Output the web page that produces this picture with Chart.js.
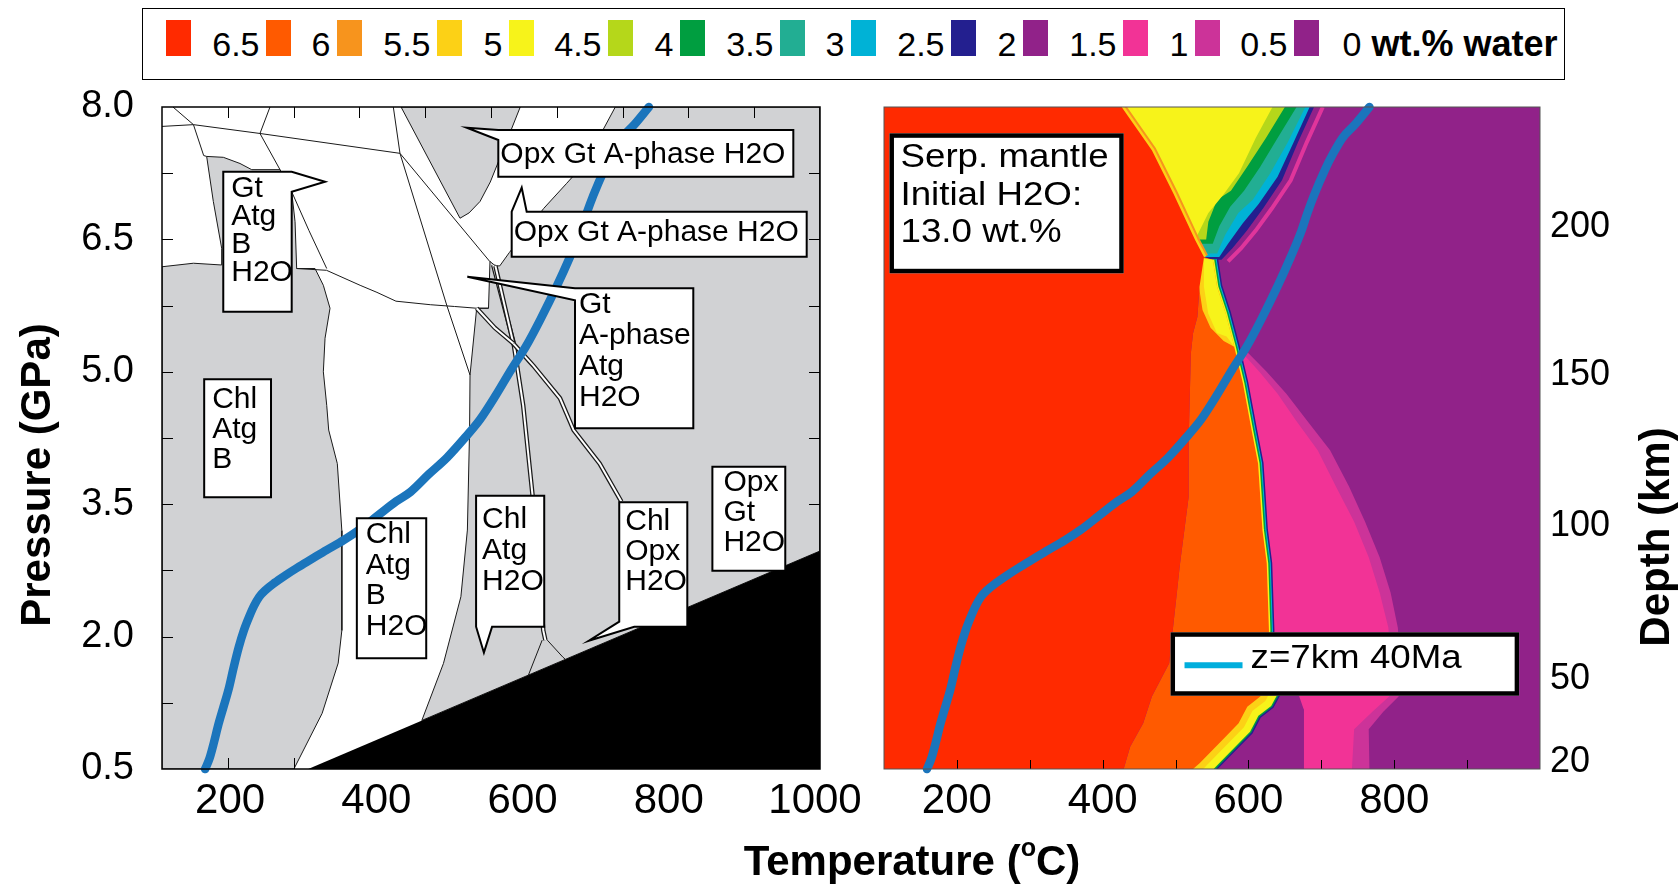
<!DOCTYPE html>
<html>
<head>
<meta charset="utf-8">
<title>Serpentinised mantle: phase relations and water content</title>
<script src="https://cdn.jsdelivr.net/npm/chart.js@4.4.1/dist/chart.umd.min.js"></script>
<style>
  html, body { margin: 0; padding: 0; background: #fff; }
  body { width: 1680px; height: 884px; position: relative; overflow: hidden;
         font-family: "Liberation Sans", Arial, Helvetica, sans-serif; color: #000; }
  #legend { position: absolute; left: 142px; top: 8px; width: 1421px; height: 70px; border: 1.5px solid #000; }
  #legend .sw { position: absolute; top: 11px; width: 25px; height: 36px; }
  #legend .lab { position: absolute; top: 11px; display: flex; align-items: baseline; font-size: 34px; white-space: nowrap; }
  #legend .lab::before { content: ''; display: block; width: 0; height: 36px; }
  #legend .lab b { font-size: 36px; }
  .title { position: absolute; height: 50px; line-height: 50px; font-weight: bold; font-size: 42px;
           text-align: center; white-space: nowrap; }
  canvas { position: absolute; }
</style>
</head>
<body>
<div id="legend"></div>
<canvas id="phaseChart" width="860" height="794" style="left:0;top:90px"></canvas>
<canvas id="waterChart" width="820" height="794" style="left:860px;top:90px"></canvas>
<div class="title" style="left:-164px;top:450px;width:400px;transform:rotate(-90deg)">Pressure (GPa)</div>
<div class="title" style="left:1505px;top:512px;width:300px;transform:rotate(-90deg)">Depth (km)</div>
<div class="title" style="left:612px;top:836px;width:600px">Temperature (<sup style="font-size:60%;vertical-align:0.75em;line-height:0">o</sup>C)</div>

<script>
// ---------- colour key (wt.% water) ----------
const waterColors = ['#ff2a00', '#ff5a00', '#f7941d', '#fcd116', '#f7f31a', '#b5d71a', '#009e40',
                     '#22ae93', '#00b2d6', '#231f8f', '#912289', '#f23396', '#cc3399', '#912289'];
const waterLabels = ['6.5', '6', '5.5', '5', '4.5', '4', '3.5', '3', '2.5', '2', '1.5', '1', '0.5', '0'];

// ---------- axes ----------
const tempTicksLeft = [200, 400, 600, 800, 1000];
const tempTicksRight = [200, 400, 600, 800];
const pressureTicks = [0.5, 2.0, 3.5, 5.0, 6.5, 8.0];
const depthLabels = [20, 50, 100, 150, 200];
const depthAtPressure = [0.58, 1.52, 3.25, 4.96, 6.64];
const leftMinorT = [190, 280, 370, 460, 550, 640, 730, 820, 910];
const leftMinorP = [1.25, 2.0, 2.75, 3.5, 4.25, 5.0, 5.75, 6.5, 7.25];
const rightMinorT = [200, 300, 400, 500, 600, 700, 800, 900];

// ---------- P-T path, z=7km 40Ma ----------
const pathTemp = [159, 165, 171, 177, 184, 191, 198, 205, 212, 219, 226, 233, 242, 254, 268, 285, 305, 325, 348, 370,
                  395, 420, 440, 465, 490, 515, 535, 557, 578, 598, 618, 640, 658, 672, 681, 690, 705, 716, 729, 746, 766];
const pathPressure = [0.5, 0.62, 0.8, 1.0, 1.2, 1.4, 1.65, 1.88, 2.07, 2.22, 2.35, 2.45, 2.53, 2.61, 2.69, 2.78, 2.88, 2.98, 3.09, 3.21,
                      3.37, 3.53, 3.64, 3.84, 4.03, 4.26, 4.46, 4.74, 5.03, 5.29, 5.6, 5.97, 6.3, 6.58, 6.8, 7.0, 7.29, 7.47, 7.65, 7.8, 8.0];

// ---------- phase diagram fields [T degC, P GPa] ----------
const grayLeft = [[100, 0.5], [100, 6.19], [143, 6.23], [181.6, 6.21], [181.6, 6.4], [170.2, 6.93], [161.1, 7.44], [183.9, 7.43],
                  [206.7, 7.36], [222.7, 7.29], [261.4, 7.29], [277.4, 7.04], [282, 6.7], [284.2, 6.17], [309.3, 6.17], [320.7, 5.98],
                  [329.8, 5.72], [323, 5.38], [320.7, 5.0], [325.3, 4.62], [328, 4.34], [339.8, 3.96], [346, 3.2], [346, 2.07],
                  [341, 1.7], [319, 1.13], [280.4, 0.5], [100, 0.5]];
const grayTop = [[427, 8.0], [590, 8.0], [566, 7.5], [549, 7.15], [535, 6.93], [520, 6.8], [507.6, 6.74], [427, 8.0]];
const grayRight = [[455.4, 1.05], [485, 1.697], [508.8, 2.452], [517.7, 3.207], [520.7, 4.34], [521.3, 4.963], [530.4, 5.72],
                   [546.6, 5.72], [548.6, 6.25], [556, 6.2], [562, 6.2], [575, 6.35], [594, 6.55], [622, 6.85], [653.5, 7.135],
                   [672, 7.305], [694.5, 7.607], [720, 8.0], [1000, 8.0], [1000, 2.97], [455.4, 1.05]];
const blackWedge = [[300, 0.5], [1000, 0.5], [1000, 2.97]];

const lineTopLeft = [[115, 8.0], [143, 7.8], [157, 7.45], [161.1, 7.44]];
const lineUpper = [[100, 7.78], [143, 7.8], [234, 7.7], [425.5, 7.475]];
const lineUpperSpur = [[234, 7.7], [247.7, 8.0]];
const lineDiagonal = [[234, 7.7], [261.4, 7.29], [277.4, 7.04], [301, 6.6], [325.3, 6.17]];
const lineMiddle = [[284, 6.17], [325, 6.15], [371, 5.98], [394, 5.9], [420, 5.8], [467, 5.76], [500, 5.74], [530.4, 5.72], [546.6, 5.72]];
const lineLong = [[416.4, 8.0], [425.5, 7.475], [489.4, 5.756], [521.3, 4.963]];
const lineCross = [[425.5, 7.475], [548.6, 6.247]];
const lineFootA = [[620, 1.96], [601, 1.56]];
const lineFootB = [[627, 1.96], [648, 1.77], [652, 1.74]];
const bandA = [[553, 6.21], [580.6, 5.34], [594, 4.62], [606.6, 3.62], [621.5, 2.07], [624.4, 1.96]];
const bandB = [[556, 6.2], [580.6, 5.32], [607.9, 5.07], [644.4, 4.7], [663, 4.34], [698.6, 3.96], [728.3, 3.53]];
const bandC = [[530.4, 5.72], [555, 5.5], [580.6, 5.32]];

// ---------- water content fields [T degC, P GPa] ----------
const fullPanel = [[100, 0.5], [1000, 0.5], [1000, 8], [100, 8]];
const magentaZone = [[580, 5.3], [600, 5.21], [625, 5.0], [652, 4.75], [680, 4.45], [712, 4.11], [738, 3.7], [760, 3.3], [780, 2.9],
                     [795, 2.5], [805, 2.1], [808, 1.7], [806, 1.32], [785, 1.15], [765, 0.95], [766, 0.5], [676, 0.5], [676, 1.17],
                     [628, 1.9], [628.1, 2.074], [625.1, 2.83], [619.2, 3.207], [613.2, 3.962], [604.3, 4.34], [592.4, 4.869]];
const pinkZone = [[583, 5.25], [592, 5.21], [615, 5.0], [640, 4.75], [665, 4.45], [695, 4.11], [720, 3.7], [745, 3.3], [765, 2.9],
                  [780, 2.5], [792, 2.1], [795, 1.7], [793, 1.32], [770, 1.15], [745, 0.95], [742, 0.5], [676, 0.5], [676, 1.17],
                  [628, 1.9], [628.1, 2.074], [625.1, 2.83], [619.2, 3.207], [613.2, 3.962], [604.3, 4.34], [592.4, 4.869]];
const purplePocket = [[616, 1.9], [616.2, 1.32], [598.4, 1.206], [586.5, 1.017], [568.6, 0.866], [550.8, 0.716], [533, 0.564],
                      [524, 0.5], [676, 0.5], [676, 1.17], [669.7, 1.32], [665, 1.9]];
const navyTop = [[100, 8], [690, 8], [668, 7.6], [646, 7.17], [620, 6.85], [598, 6.6], [578, 6.4], [563, 6.27], [100, 6.27]];
const cyanTop = [[100, 8], [684, 8], [662, 7.6], [640, 7.21], [614, 6.9], [592, 6.68], [572, 6.45], [560, 6.3], [100, 6.3]];
const tealTop = [[100, 8], [678, 8], [654, 7.6], [630, 7.25], [606, 6.95], [586, 6.8], [568, 6.55], [557, 6.34], [100, 6.34]];
const greenTop = [[100, 8], [666, 8], [640, 7.65], [616, 7.32], [594, 7.05], [575, 6.87], [560, 6.65], [551, 6.45], [100, 6.45]];
const ygTop = [[100, 8], [650, 8], [624, 7.65], [598, 7.32], [576, 7.05], [557, 6.95], [545, 6.7], [542, 6.5], [100, 6.5]];
const yellowTop = [[100, 8], [633, 8], [610, 7.65], [587, 7.25], [565, 7.0], [545, 6.8], [530, 6.55], [527, 6.5], [100, 6.5]];
const pinkStripeTop = [[702, 8], [680, 7.6], [658, 7.17], [632, 6.85], [610, 6.6], [590, 6.4], [572, 6.25]];
const mainSeam = [[551, 6.27], [556.7, 5.965], [568.6, 5.66], [580.5, 5.285], [592.4, 4.869], [604.3, 4.34], [613.2, 3.962],
                  [619.2, 3.207], [625.1, 2.83], [628.1, 2.074], [627, 1.8]];
const lowerSeam = [[628, 1.5], [616.2, 1.32], [598.4, 1.206], [586.5, 1.017], [568.6, 0.866], [550.8, 0.716], [533, 0.564], [524, 0.5], [518, 0.4]];
const orangeZone = [[539, 6.3], [532.9, 5.965], [530, 5.625], [524, 5.436], [521, 5.21], [518, 4.228], [518, 3.585], [506.2, 2.83],
                    [497.2, 2.15], [491.3, 1.697], [467.5, 1.32], [455.6, 1.017], [437.7, 0.753], [428.8, 0.5], [524, 0.5],
                    [533, 0.564], [550.8, 0.716], [568.6, 0.866], [586.5, 1.017], [598.4, 1.206], [616.2, 1.32], [628, 1.5],
                    [628.1, 2.074], [625.1, 2.83], [619.2, 3.207], [613.2, 3.962], [604.3, 4.34], [592.4, 4.869], [580.5, 5.285],
                    [568.6, 5.66], [556.7, 5.965], [551, 6.27]];
const goldStrip = [[532, 6.3], [551, 6.27], [556.7, 5.965], [568.6, 5.66], [580.5, 5.285], [566, 5.35], [548, 5.5], [537, 5.7], [532, 5.97]];
const yellowStrip = [[539, 6.28], [551, 6.27], [556.7, 5.965], [568.6, 5.66], [580.5, 5.285], [570, 5.4], [556.7, 5.44], [544.8, 5.66], [538.9, 5.965]];
const redEdgeTop = [[426, 8], [467.5, 7.51], [497, 7.02], [527, 6.49], [539, 6.3]];
const redZone = [[100, 8], [426, 8], [467.5, 7.51], [497, 7.02], [527, 6.49], [539, 6.3], [532.9, 5.965], [530, 5.625], [524, 5.436],
                 [521, 5.21], [518, 4.228], [518, 3.585], [506.2, 2.83], [497.2, 2.15], [491.3, 1.697], [467.5, 1.32], [455.6, 1.017],
                 [437.7, 0.753], [428.8, 0.5], [100, 0.5]];

// ---------- labels placed in data space ----------
const phaseCallouts = [
  { lines: ['Gt', 'Atg', 'B', 'H2O'], t: [183.8, 277.4], p: [7.267, 5.681], tip: [323, 7.153], side: 'right', base: [0, 20], dx: 8, dy: 25, lh: 28 },
  { lines: ['Opx Gt A-phase H2O'], t: [560, 963.5], p: [7.739, 7.21], tip: [516.8, 7.765], side: 'left', base: [0, 10], dx: 2, dy: 33, lh: 0 },
  { lines: ['Opx Gt A-phase H2O'], t: [578.3, 981.8], p: [6.814, 6.304], tip: [592, 7.086], side: 'top', base: [0, 15], dx: 2, dy: 29, lh: 0 },
  { lines: ['Gt', 'A-phase', 'Atg', 'H2O'], t: [664.9, 826.7], p: [5.946, 4.36], tip: [517.6, 6.077], side: 'left', base: [0, 12], dx: 4, dy: 25, lh: 31 },
  { lines: ['Chl', 'Atg', 'B'], t: [157.7, 249.1], p: [4.915, 3.578], dx: 8, dy: 29, lh: 30 },
  { lines: ['Chl', 'Atg', 'B', 'H2O'], t: [366.5, 461.4], p: [3.34, 1.754], dx: 9, dy: 25, lh: 30.5 },
  { lines: ['Chl', 'Atg', 'H2O'], t: [529.6, 622.8], p: [3.596, 2.112], tip: [540.3, 1.818], side: 'bottom', base: [0, 16], dx: 6, dy: 32, lh: 31 },
  { lines: ['Chl', 'Opx', 'H2O'], t: [725.4, 818.5], p: [3.521, 2.112], tip: [683.8, 1.953], side: 'corner', base: [15, 5], dx: 6, dy: 28, lh: 30 },
  { lines: ['Opx', 'Gt', 'H2O'], t: [852.8, 952.5], p: [3.925, 2.747], dx: 11, dy: 24, lh: 30 }
];
const waterNotes = [
  { kind: 'text', lines: ['Serp. mantle', 'Initial H2O:', '13.0 wt.%'], t: [107.5, 428.9], p: [7.702, 6.116] },
  { kind: 'key', label: 'z=7km 40Ma', color: '#00aedd', t: [493.1, 971.4], p: [2.049, 1.33] }
];

// ---------- colour key: swatch left edges on the page ----------
const keyLeft = [166, 266, 337, 437, 509, 608, 680, 780, 851, 951, 1023, 1123, 1195, 1294];
const legendBox = document.getElementById('legend');
const boxInnerLeft = 143.5, boxInnerWidth = 1421;
waterColors.forEach((c, i) => {
  const sw = document.createElement('div');
  sw.className = 'sw';
  sw.style.background = c;
  sw.style.left = (keyLeft[i] - boxInnerLeft) + 'px';
  legendBox.appendChild(sw);
  const lab = document.createElement('div');
  lab.className = 'lab';
  const txt = document.createElement('span');
  txt.textContent = waterLabels[i];
  if (i === waterColors.length - 1) {
    const unit = document.createElement('b');
    unit.textContent = ' wt.% water';
    txt.appendChild(unit);
    lab.style.left = (keyLeft[i] + 25 + 24 - boxInnerLeft) + 'px';
  } else {
    lab.style.right = (boxInnerWidth - (keyLeft[i + 1] - 6 - boxInnerLeft)) + 'px';
  }
  lab.appendChild(txt);
  legendBox.appendChild(lab);
});

// ---------- helpers ----------
const FONT = '"Liberation Sans", Arial, Helvetica, sans-serif';
const GRAY = '#d1d2d4';
const INK = '#1a1a1a';
const toXY = arr => arr.map(([t, p]) => ({ x: t, y: p }));

function area(points, color, edge) {
  return { data: toXY(points), showLine: true, fill: 'shape', backgroundColor: color,
           borderColor: edge ? edge.color : color, borderWidth: edge ? edge.width : 0, pointRadius: 0, clip: 0 };
}
function stroke(points, color, width, extra) {
  return Object.assign({ data: toXY(points), showLine: true, fill: false, borderColor: color,
                         borderWidth: width, pointRadius: 0, clip: 0 }, extra || {});
}
// first layer = drawn first (bottom)
function stack(layers) {
  return layers.map((d, i) => Object.assign(d, { order: layers.length - i }));
}
const pathPoints = pathTemp.map((t, i) => [t, pathPressure[i]]);
function pathLayer() {
  return stroke(pathPoints, '#1b75bc', 8.5, { tension: 0.3, cubicInterpolationMode: 'monotone',
                borderCapStyle: 'round', borderJoinStyle: 'round', clip: 5 });
}

function drawCallout(ctx, xs, ys, b) {
  const x0 = xs.getPixelForValue(b.t[0]), x1 = xs.getPixelForValue(b.t[1]);
  const y0 = ys.getPixelForValue(b.p[0]), y1 = ys.getPixelForValue(b.p[1]);
  const pts = [[x0, y0], [x1, y0], [x1, y1], [x0, y1]];
  if (b.tip) {
    const tx = xs.getPixelForValue(b.tip[0]), ty = ys.getPixelForValue(b.tip[1]);
    const [a, c] = b.base;
    if (b.side === 'top') pts.splice(1, 0, [x0 + a, y0], [tx, ty], [x0 + c, y0]);
    else if (b.side === 'right') pts.splice(2, 0, [x1, y0 + a], [tx, ty], [x1, y0 + c]);
    else if (b.side === 'bottom') pts.splice(3, 0, [x0 + c, y1], [tx, ty], [x0 + a, y1]);
    else if (b.side === 'left') pts.push([x0, y0 + c], [tx, ty], [x0, y0 + a]);
    else pts.splice(3, 1, [x0 + a, y1], [tx, ty], [x0, y1 - c]);
  }
  ctx.beginPath();
  pts.forEach(([px, py], i) => (i ? ctx.lineTo(px, py) : ctx.moveTo(px, py)));
  ctx.closePath();
  ctx.fillStyle = '#fff';
  ctx.fill();
  ctx.lineWidth = 2;
  ctx.strokeStyle = '#000';
  ctx.lineJoin = 'miter';
  ctx.stroke();
  ctx.fillStyle = '#000';
  ctx.font = '30px ' + FONT;
  ctx.textBaseline = 'alphabetic';
  ctx.textAlign = 'left';
  b.lines.forEach((s, i) => ctx.fillText(s, x0 + b.dx, y0 + b.dy + i * b.lh));
}

function wideText(ctx, s, x, y) {
  ctx.save();
  ctx.translate(x, y);
  ctx.scale(1.08, 1);
  ctx.fillText(s, 0, 0);
  ctx.restore();
}

function drawNote(ctx, xs, ys, n) {
  const x0 = xs.getPixelForValue(n.t[0]), x1 = xs.getPixelForValue(n.t[1]);
  const y0 = ys.getPixelForValue(n.p[0]), y1 = ys.getPixelForValue(n.p[1]);
  ctx.fillStyle = '#fff';
  ctx.fillRect(x0, y0, x1 - x0, y1 - y0);
  ctx.lineWidth = 4.5;
  ctx.strokeStyle = '#000';
  ctx.strokeRect(x0 + 2.25, y0 + 2.25, x1 - x0 - 4.5, y1 - y0 - 4.5);
  ctx.fillStyle = '#000';
  ctx.font = '34px ' + FONT;
  ctx.textBaseline = 'alphabetic';
  ctx.textAlign = 'left';
  if (n.kind === 'text') {
    n.lines.forEach((s, i) => wideText(ctx, s, x0 + 11, y0 + 34 + i * 37.5));
  } else {
    ctx.strokeStyle = n.color;
    ctx.lineWidth = 6;
    ctx.beginPath();
    ctx.moveTo(x0 + 14, y0 + 33);
    ctx.lineTo(x0 + 72, y0 + 33);
    ctx.stroke();
    wideText(ctx, n.label, x0 + 80, y0 + 36);
  }
}

const panelDecor = {
  id: 'panelDecor',
  afterDatasetsDraw(chart, args, o) {
    const { ctx, chartArea: a } = chart;
    const xs = chart.scales.x, ys = chart.scales.y;
    ctx.save();
    ctx.beginPath();
    ctx.rect(a.left, a.top, a.width, a.height);
    ctx.clip();
    (o.callouts || []).forEach(b => drawCallout(ctx, xs, ys, b));
    (o.notes || []).forEach(n => drawNote(ctx, xs, ys, n));
    ctx.restore();

    ctx.save();
    ctx.strokeStyle = '#000';
    ctx.lineWidth = 1;
    ctx.beginPath();
    const L = o.tickLength;
    (o.xMinor || []).forEach(v => {
      const px = Math.round(xs.getPixelForValue(v)) + 0.5;
      if (o.sides.includes('bottom')) { ctx.moveTo(px, a.bottom); ctx.lineTo(px, a.bottom - L); }
      if (o.sides.includes('top')) { ctx.moveTo(px, a.top); ctx.lineTo(px, a.top + L); }
    });
    (o.yMinor || []).forEach(v => {
      const py = Math.round(ys.getPixelForValue(v)) + 0.5;
      if (o.sides.includes('left')) { ctx.moveTo(a.left, py); ctx.lineTo(a.left + L, py); }
      if (o.sides.includes('right')) { ctx.moveTo(a.right, py); ctx.lineTo(a.right - L, py); }
    });
    ctx.stroke();
    ctx.strokeStyle = o.frameColor;
    ctx.lineWidth = o.frameWidth;
    ctx.strokeRect(a.left, a.top, a.width, a.height);
    ctx.restore();
  }
};

function tempAxis(values, height, offset) {
  return {
    type: 'linear', min: 100, max: 1000, position: 'bottom',
    grid: { display: false, drawTicks: false }, border: { display: false },
    ticks: { font: { family: FONT, size: 42 }, color: '#000', padding: 7, maxRotation: 0, autoSkip: false,
             labelOffset: offset, callback: v => String(v) },
    afterBuildTicks: s => { s.ticks = values.map(v => ({ value: v })); },
    afterFit: s => { s.height = height; s.paddingLeft = 0; s.paddingRight = 0; }
  };
}

const baseOptions = {
  responsive: false, animation: false, events: [],
  plugins: { legend: { display: false }, tooltip: { enabled: false } }
};

// ---------- left: phase diagram ----------
const edge = { color: INK, width: 1 };
new Chart(document.getElementById('phaseChart'), {
  type: 'scatter',
  data: {
    datasets: stack([
      area(grayLeft, GRAY, edge),
      area(grayTop, GRAY, edge),
      area(grayRight, GRAY, edge),
      area(blackWedge, '#000'),
      stroke(lineTopLeft, INK, 1),
      stroke(lineUpper, INK, 1),
      stroke(lineUpperSpur, INK, 1),
      stroke(lineDiagonal, INK, 1),
      stroke(lineMiddle, INK, 1),
      stroke(lineLong, INK, 1),
      stroke(lineCross, INK, 1),
      stroke(lineFootA, INK, 1),
      stroke(lineFootB, INK, 1),
      stroke(bandA, INK, 4.5), stroke(bandA, '#fff', 2),
      stroke(bandB, INK, 4.5), stroke(bandB, '#fff', 2),
      stroke(bandC, INK, 4.5), stroke(bandC, '#fff', 2),
      pathLayer()
    ])
  },
  options: Object.assign({}, baseOptions, {
    layout: { padding: { top: 17, right: 40, left: 0, bottom: 0 } },
    scales: {
      x: tempAxis(tempTicksLeft, 115, -5),
      y: {
        type: 'linear', min: 0.5, max: 8, position: 'left',
        grid: { display: false, drawTicks: false }, border: { display: false },
        ticks: { font: { family: FONT, size: 38 }, color: '#000', padding: 28, callback: v => v.toFixed(1) },
        afterBuildTicks: s => { s.ticks = pressureTicks.map(v => ({ value: v })); },
        afterFit: s => { s.width = 162; s.paddingTop = 0; s.paddingBottom = 0; }
      }
    },
    plugins: Object.assign({}, baseOptions.plugins, {
      panelDecor: { callouts: phaseCallouts, xMinor: leftMinorT, yMinor: leftMinorP,
                    sides: ['top', 'bottom', 'left', 'right'], tickLength: 11, frameColor: '#000', frameWidth: 1.5 }
    })
  }),
  plugins: [panelDecor]
});

// ---------- right: water content ----------
const [RED, ORANGE_RED, ORANGE, GOLD, YELLOW, YG, GREEN, TEAL, CYAN, NAVY, PURPLE, PINK, MAGENTA] = waterColors;
new Chart(document.getElementById('waterChart'), {
  type: 'scatter',
  data: {
    datasets: stack([
      area(fullPanel, PURPLE),
      area(magentaZone, MAGENTA),
      area(pinkZone, PINK),
      area(purplePocket, PURPLE),
      area(navyTop, NAVY),
      area(cyanTop, CYAN),
      area(tealTop, TEAL),
      area(greenTop, GREEN),
      area(ygTop, YG),
      area(yellowTop, YELLOW),
      stroke(pinkStripeTop, '#e0359b', 4),
      stroke(lowerSeam, NAVY, 34), stroke(lowerSeam, GREEN, 31), stroke(lowerSeam, YELLOW, 28), stroke(lowerSeam, GOLD, 13),
      stroke(mainSeam, NAVY, 11), stroke(mainSeam, CYAN, 8), stroke(mainSeam, GREEN, 6), stroke(mainSeam, YELLOW, 3),
      area(orangeZone, ORANGE_RED),
      area(goldStrip, GOLD),
      area(yellowStrip, YELLOW),
      stroke(redEdgeTop, ORANGE, 9), stroke(redEdgeTop, GOLD, 5),
      area(redZone, RED),
      pathLayer()
    ])
  },
  options: Object.assign({}, baseOptions, {
    layout: { padding: { top: 17, right: 0, left: 24, bottom: 0 } },
    scales: {
      x: tempAxis(tempTicksRight, 115, 0),
      y: { type: 'linear', min: 0.5, max: 8, display: false },
      y2: {
        type: 'linear', min: 0.5, max: 8, position: 'right',
        grid: { display: false, drawTicks: false }, border: { display: false },
        ticks: { font: { family: FONT, size: 36 }, color: '#000', padding: 10, callback: (v, i) => depthLabels[i] },
        afterBuildTicks: s => { s.ticks = depthAtPressure.map(v => ({ value: v })); },
        afterFit: s => { s.width = 140; s.paddingTop = 0; s.paddingBottom = 0; }
      }
    },
    plugins: Object.assign({}, baseOptions.plugins, {
      panelDecor: { notes: waterNotes, xMinor: rightMinorT, yMinor: [], sides: ['bottom'],
                    tickLength: 9, frameColor: '#555', frameWidth: 1 }
    })
  }),
  plugins: [panelDecor]
});
</script>
</body>
</html>
